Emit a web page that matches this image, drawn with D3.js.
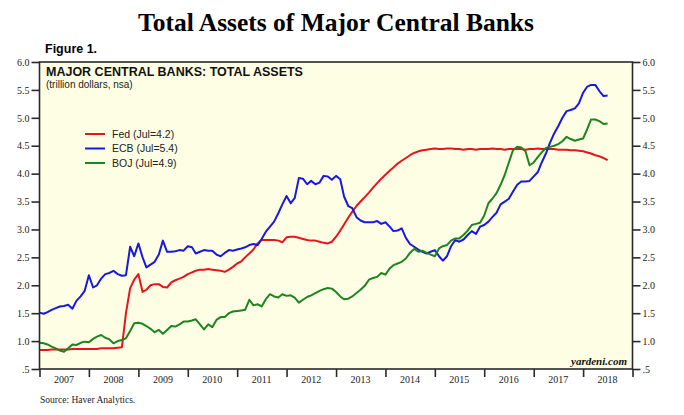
<!DOCTYPE html>
<html><head><meta charset="utf-8">
<script src="https://cdn.jsdelivr.net/npm/d3@7/dist/d3.min.js"></script>
<style>body{margin:0;background:#fff}svg{display:block}</style>
</head><body>
<svg id="chart" width="684" height="415"></svg>
<script>
// ---- data (trillion dollars, monthly Jan 2007 .. Jul 2018) ----
const startYear = 2007;
const fed = [
0.84,0.84,0.84,0.85,0.85,0.85,0.85,0.85,0.86,0.86,0.86,0.86,
0.86,0.86,0.86,0.87,0.87,0.87,0.87,0.88,0.89,1.50,1.95,2.10,
2.20,1.88,1.92,2.00,2.02,2.02,1.97,1.96,2.05,2.09,2.12,2.15,
2.20,2.23,2.26,2.28,2.28,2.29,2.28,2.27,2.26,2.24,2.28,2.33,
2.39,2.43,2.50,2.57,2.64,2.75,2.81,2.81,2.81,2.81,2.80,2.77,
2.86,2.87,2.87,2.85,2.83,2.81,2.80,2.80,2.78,2.76,2.75,2.78,
2.87,2.98,3.09,3.21,3.32,3.42,3.50,3.58,3.66,3.75,3.83,3.91,
3.98,4.05,4.11,4.18,4.23,4.28,4.33,4.37,4.40,4.42,4.43,4.44,
4.45,4.44,4.44,4.45,4.45,4.44,4.44,4.43,4.44,4.44,4.43,4.44,
4.44,4.44,4.45,4.44,4.44,4.43,4.44,4.44,4.44,4.44,4.43,4.44,
4.44,4.45,4.44,4.44,4.44,4.44,4.43,4.43,4.43,4.42,4.42,4.41,
4.40,4.38,4.36,4.33,4.31,4.28,4.24];
const ecb = [
1.51,1.49,1.52,1.56,1.59,1.62,1.63,1.65,1.58,1.72,1.80,1.90,
2.18,1.96,2.00,2.12,2.20,2.22,2.26,2.20,2.17,2.18,2.69,2.52,
2.75,2.50,2.32,2.37,2.42,2.55,2.80,2.60,2.60,2.61,2.63,2.62,
2.70,2.68,2.57,2.60,2.63,2.62,2.62,2.55,2.52,2.58,2.63,2.62,
2.64,2.66,2.68,2.72,2.74,2.72,2.83,2.96,3.05,3.14,3.29,3.45,
3.60,3.47,3.56,3.92,3.91,3.81,3.87,3.81,3.84,3.96,3.95,3.89,
3.96,3.90,3.59,3.42,3.38,3.22,3.16,3.13,3.13,3.13,3.15,3.10,
3.13,3.05,2.97,2.98,3.02,2.85,2.74,2.69,2.64,2.60,2.57,2.60,
2.63,2.52,2.44,2.52,2.70,2.81,2.78,2.82,2.90,2.97,2.92,3.05,
3.08,3.14,3.22,3.30,3.45,3.50,3.55,3.68,3.80,3.86,3.86,3.87,
3.95,4.03,4.20,4.36,4.55,4.72,4.85,5.00,5.12,5.14,5.17,5.26,
5.45,5.56,5.59,5.59,5.48,5.39,5.40];
const boj = [
0.97,0.96,0.94,0.90,0.87,0.83,0.81,0.87,0.94,0.93,0.97,0.99,
0.98,1.04,1.08,1.11,1.06,1.03,0.96,1.00,1.02,1.05,1.18,1.32,
1.33,1.31,1.27,1.22,1.16,1.20,1.13,1.20,1.27,1.26,1.30,1.35,
1.35,1.37,1.39,1.30,1.21,1.30,1.25,1.38,1.43,1.43,1.50,1.53,
1.54,1.55,1.56,1.74,1.64,1.66,1.62,1.75,1.84,1.80,1.78,1.84,
1.81,1.82,1.78,1.69,1.74,1.79,1.82,1.86,1.90,1.93,1.95,1.94,
1.88,1.80,1.75,1.76,1.80,1.86,1.92,1.99,2.10,2.13,2.15,2.22,
2.19,2.30,2.36,2.39,2.42,2.48,2.58,2.65,2.60,2.62,2.58,2.55,
2.52,2.66,2.70,2.72,2.80,2.84,2.84,2.90,2.98,3.08,3.10,3.12,
3.25,3.47,3.55,3.65,3.80,3.98,4.20,4.42,4.48,4.47,4.40,4.15,
4.20,4.30,4.38,4.46,4.48,4.50,4.53,4.58,4.66,4.62,4.59,4.61,
4.63,4.80,4.97,4.97,4.94,4.89,4.90];
const seriesNames = ["Fed (Jul=4.2)", "ECB (Jul=5.4)", "BOJ (Jul=4.9)"];
const seriesColors = ["#e8141c", "#1818e0", "#1e8420"];
const yTicks = [0.5,1.0,1.5,2.0,2.5,3.0,3.5,4.0,4.5,5.0,5.5,6.0];
const yearLabels = ["2007","2008","2009","2010","2011","2012","2013","2014","2015","2016","2017","2018"];

// ---- layout ----
const svg = d3.select("#chart");
const L = 39.5, R = 632.5, T = 62, B = 369;
const x = d3.scaleTime().domain([new Date(2007,0,1), new Date(2019,0,1)]).range([L, R]);
const y = d3.scaleLinear().domain([0.5, 6.0]).range([B, T]);

svg.append("rect").attr("x", L).attr("y", T).attr("width", R-L).attr("height", B-T)
  .attr("fill", "#fefee4");

const dates = fed.map((_, i) => new Date(startYear, i, 1));
const series = [fed, ecb, boj];
const line = d3.line().x((d,i) => x(dates[i])).y(d => y(d));
svg.append("clipPath").attr("id","clip").append("rect")
  .attr("x", L).attr("y", T).attr("width", R-L).attr("height", B-T);
const g = svg.append("g").attr("clip-path","url(#clip)");
series.forEach((s, k) => {
  g.append("path").datum(s).attr("d", line).attr("fill","none")
    .attr("stroke", seriesColors[k]).attr("stroke-width", 2).attr("stroke-linejoin","round");
});

// frame
svg.append("rect").attr("x", L).attr("y", T).attr("width", R-L).attr("height", B-T)
  .attr("fill","none").attr("stroke","#2a2a2a").attr("stroke-width",1.6);

const fmt = d => d === 0.5 ? ".5" : d3.format(".1f")(d);
const axL = svg.append("g").attr("transform", `translate(${L},0)`)
  .call(d3.axisLeft(y).tickValues(yTicks).tickFormat(fmt).tickSize(8).tickPadding(2));
const axR = svg.append("g").attr("transform", `translate(${R},0)`)
  .call(d3.axisRight(y).tickValues(yTicks).tickFormat(fmt).tickSize(8).tickPadding(2));
const axB = svg.append("g").attr("transform", `translate(0,${B})`)
  .call(d3.axisBottom(x).ticks(d3.timeYear.every(1)).tickFormat("").tickSize(8));
[axL, axR, axB].forEach(a => {
  a.select(".domain").remove();
  a.selectAll(".tick line").attr("stroke","#2a2a2a").attr("stroke-width",1.6);
  a.selectAll("text").attr("font-family","'Liberation Serif','Times New Roman',serif")
    .attr("font-size", 10).attr("fill","#222");
});
svg.append("g").selectAll("text").data(yearLabels).join("text")
  .attr("x", d => x(new Date(+d, 6, 1)))
  .attr("y", 383)
  .attr("text-anchor","middle")
  .attr("font-family","'Liberation Serif','Times New Roman',serif")
  .attr("font-size", 10).attr("fill","#222")
  .text(d => d);

// titles
svg.append("text").attr("x", 336).attr("y", 31).attr("text-anchor","middle")
  .attr("font-family","'Liberation Serif','Times New Roman',serif").attr("font-weight","bold")
  .attr("font-size", 25.5).attr("fill","#000").text("Total Assets of Major Central Banks");
svg.append("text").attr("x", 45).attr("y", 53)
  .attr("font-family","'Liberation Sans',Arial,sans-serif").attr("font-weight","bold")
  .attr("font-size", 12.5).attr("fill","#000").text("Figure 1.");
svg.append("text").attr("x", 46).attr("y", 75.5)
  .attr("font-family","'Liberation Sans',Arial,sans-serif").attr("font-weight","bold")
  .attr("font-size", 12.5).attr("fill","#111").text("MAJOR CENTRAL BANKS: TOTAL ASSETS");
svg.append("text").attr("x", 46).attr("y", 87.5)
  .attr("font-family","'Liberation Sans',Arial,sans-serif")
  .attr("font-size", 10).attr("fill","#222").text("(trillion dollars, nsa)");

// legend
const lg = svg.append("g");
seriesNames.forEach((n, k) => {
  const yy = 134 + k*14.5;
  lg.append("line").attr("x1", 85).attr("x2", 105).attr("y1", yy).attr("y2", yy)
    .attr("stroke", seriesColors[k]).attr("stroke-width", 2);
  lg.append("text").attr("x", 112).attr("y", yy + 3.8)
    .attr("font-family","'Liberation Sans',Arial,sans-serif")
    .attr("font-size", 10.5).attr("fill","#222").text(n);
});

svg.append("text").attr("x", 627).attr("y", 364.5).attr("text-anchor","end")
  .attr("font-family","'Liberation Serif','Times New Roman',serif")
  .attr("font-weight","bold").attr("font-style","italic")
  .attr("font-size", 11).attr("fill","#111").text("yardeni.com");
svg.append("text").attr("x", 40).attr("y", 403)
  .attr("font-family","'Liberation Serif','Times New Roman',serif")
  .attr("font-size", 9.5).attr("fill","#222").text("Source: Haver Analytics.");
</script>
</body></html>
